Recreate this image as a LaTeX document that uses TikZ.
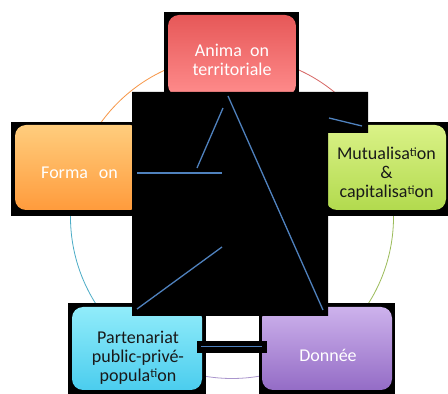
\documentclass[tikz,border=0pt]{standalone}
\usepackage{fontspec}
\setmainfont{Carlito}
\usetikzlibrary{shadings}
\definecolor{linkblue}{RGB}{79,129,189}
\definecolor{arcred}{RGB}{214,100,98}
\definecolor{arcorange}{RGB}{247,150,70}
\definecolor{arcgreen}{RGB}{155,187,89}
\definecolor{arcpurple}{RGB}{170,150,205}
\definecolor{arcaqua}{RGB}{75,172,198}
\newcommand{\tilig}{\raisebox{3.5pt}{\fontsize{12.5}{12.5}\selectfont ti}}
\begin{document}
\begin{tikzpicture}[x=1pt,y=1pt,
    bg/.style={fill=black},
    box/.style={rounded corners=11pt, inner sep=0pt},
    lbl/.style={align=center, font=\fontsize{18}{18.8}\selectfont},
    link/.style={line width=1.3pt, linkblue},
    ring/.style={line width=0.8pt}]

    \fill[white] (0,0) rectangle (448,394);
    \useasboundingbox (0,0) rectangle (448,394);

    % cycle
    \coordinate (c) at (232,177);
    \draw[ring, arcorange] (c) ++(90:161.5) arc (90:162:161.5);
    \draw[ring, arcred] (c) ++(18:161.5) arc (18:90:161.5);
    \draw[ring, arcgreen] (c) ++(-54:161.5) arc (-54:18:161.5);
    \draw[ring, arcpurple] (c) ++(234:161.5) arc (234:306:161.5);
    \draw[ring, arcaqua] (c) ++(162:161.5) arc (162:234:161.5);

    % boxes
    \fill[bg] (164,294) rectangle (299,382);
    \node[box, minimum width=128pt, minimum height=81pt, top color={rgb,255:red,230;green,88;blue,88}, bottom color={rgb,255:red,255;green,140;blue,140}] (anim) at (232,338.5) {};
    \node[lbl, white] (animtxt) at (232,334) {Anima\hspace{.45em}on\\territoriale};

    \fill[bg] (11,178) rectangle (145,272);
    \node[box, minimum width=126pt, minimum height=85pt, top color={rgb,255:red,255;green,205;blue,125}, bottom color={rgb,255:red,255;green,155;blue,60}] (forma) at (78,226.5) {};
    \node[lbl, white] (formatxt) at (79.5,221.5) {Forma\hspace{.6em}on};

    \fill[bg] (322,178) rectangle (448,272);
    \node[box, minimum width=120pt, minimum height=85pt, top color={rgb,255:red,218;green,242;blue,135}, bottom color={rgb,255:red,178;green,218;blue,78}] (mutu) at (386,226.5) {};
    \node[lbl, black!90] (mututxt) at (386.5,220) {Mutualisa\tilig on\\\&\\capitalisa\tilig on};

    \fill[bg] (68,0) rectangle (206,91);
    \node[box, minimum width=130pt, minimum height=83pt, top color={rgb,255:red,145;green,236;blue,250}, bottom color={rgb,255:red,75;green,205;blue,238}] (parten) at (137,45.5) {};
    \node[lbl, black!90] (partentxt) at (138,36.5) {Partenariat\\public-privé-\\popula\tilig on};

    \fill[bg] (259,0) rectangle (395,91);
    \node[box, minimum width=130pt, minimum height=83pt, top color={rgb,255:red,205;green,178;blue,236}, bottom color={rgb,255:red,148;green,108;blue,198}] (donnee) at (327,45.5) {};
    \node[lbl, white] (donneetxt) at (328,39) {Donnée};

    % black block
    \fill[black] (132,302) -- (368,302) -- (368,261) -- (328,261) -- (328,78) -- (132,78) -- cycle;
    \fill[black] (197,53) rectangle (267,41);

    \coordinate (a1) at (228,298);
    \coordinate (a2) at (323,84);
    \coordinate (b1) at (223,286);
    \coordinate (b2) at (197,226);
    \coordinate (h1) at (137,221);
    \coordinate (h2) at (222,221);
    \coordinate (d1) at (222,147);
    \coordinate (d2) at (137,85);
    \coordinate (e1) at (329,276);
    \coordinate (e2) at (362,268);
    \coordinate (f1) at (201,47.5);
    \coordinate (f2) at (262,47.5);

    \draw[link] (a1) -- (a2);
    \draw[link] (b1) -- (b2);
    \draw[link] (h1) -- (h2);
    \draw[link] (d1) -- (d2);
    \draw[link] (e1) -- (e2);
    \draw[link] (f1) -- (f2);

\end{tikzpicture}
\end{document}
